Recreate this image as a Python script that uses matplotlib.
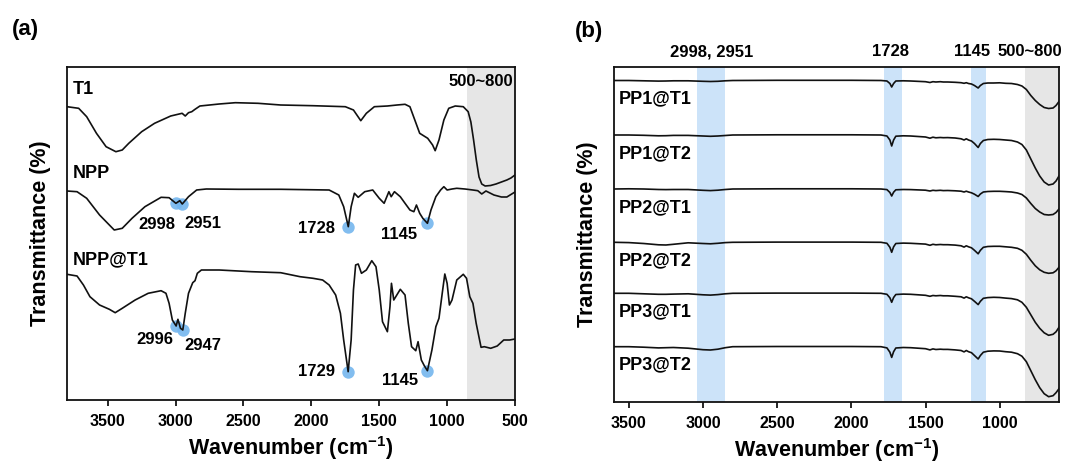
import numpy as np
import matplotlib
matplotlib.use("Agg")
import matplotlib.pyplot as plt

plt.rcParams["font.family"] = ["Liberation Sans", "DejaVu Sans"]
plt.rcParams["font.weight"] = "bold"
plt.rcParams["mathtext.fontset"] = "custom"
plt.rcParams["mathtext.rm"] = "Liberation Sans:bold"
plt.rcParams["mathtext.bf"] = "Liberation Sans:bold"
plt.rcParams["mathtext.default"] = "bf"

# ---------------- panel (a): FTIR spectra (arbitrary stacked units) ----------------
t1_wn = [3800, 3714, 3655, 3583, 3512, 3440, 3393, 3345, 3250, 3155, 3036, 2952, 2929,
         2905, 2881, 2857, 2821, 2679, 2560, 2393, 2226, 1988, 1750, 1690, 1636, 1595,
         1536, 1440, 1369, 1310, 1274, 1238, 1202, 1143, 1107, 1088, 1060, 1024, 988,
         940, 881, 845, 825, 805, 785, 765, 745, 720, 680, 640, 600, 560, 530, 500]
t1_val = [293.3, 291.7, 283.3, 266.7, 253.3, 248.3, 250.0, 256.7, 268.3, 276.7, 284.0,
          286.7, 284.0, 287.3, 288.3, 290.7, 294.0, 296.0, 297.3, 296.7, 295.0, 294.3,
          293.3, 290.0, 279.3, 286.7, 293.3, 294.0, 295.0, 295.7, 293.3, 280.0, 266.7,
          261.7, 255.0, 249.3, 260.0, 280.0, 291.7, 294.0, 293.3, 288.3, 278.0, 260.0,
          240.0, 223.0, 216.0, 214.0, 214.5, 216.0, 218.0, 220.0, 222.0, 225.0]

npp_wn = [3800, 3726, 3655, 3560, 3452, 3393, 3321, 3226, 3107, 3048, 2998, 2969, 2951,
          2905, 2845, 2774, 2536, 2226, 1869, 1798, 1762, 1728, 1707, 1683, 1655, 1607,
          1548, 1500, 1464, 1429, 1412, 1388, 1345, 1310, 1274, 1245, 1226, 1202, 1179,
          1145, 1119, 1083, 1048, 1024, 1000, 964, 929, 869, 810, 774, 745, 714, 655,
          600, 560, 500]
npp_val = [209.0, 208.3, 201.7, 185.0, 170.0, 171.7, 181.7, 193.3, 202.7, 202.3, 196.7,
           199.3, 196.0, 203.3, 210.0, 211.0, 210.7, 210.7, 210.0, 205.0, 193.3, 173.3,
           193.3, 206.7, 202.7, 208.3, 210.0, 201.7, 196.7, 208.3, 203.3, 208.3, 203.3,
           196.7, 190.0, 188.3, 195.0, 186.7, 181.7, 176.7, 190.0, 203.3, 210.0, 213.3,
           210.0, 211.0, 211.7, 211.0, 210.0, 209.3, 206.0, 209.0, 205.0, 203.0, 203.0,
           208.0]

nppt1_wn = [3800, 3726, 3679, 3631, 3560, 3488, 3445, 3393, 3298, 3202, 3107, 3071, 3048,
            3024, 2996, 2983, 2964, 2947, 2929, 2905, 2874, 2857, 2840, 2810, 2679, 2440,
            2226, 2083, 1988, 1917, 1869, 1821, 1786, 1762, 1729, 1707, 1690, 1674, 1655,
            1631, 1595, 1555, 1524, 1500, 1476, 1440, 1421, 1410, 1393, 1345, 1310, 1286,
            1262, 1231, 1214, 1190, 1167, 1145, 1112, 1083, 1060, 1036, 1017, 1000, 983,
            964, 929, 881, 857, 833, 810, 786, 750, 726, 679, 631, 583, 540, 500]
nppt1_val = [125.7, 124.0, 115.0, 103.3, 95.0, 90.7, 87.3, 91.7, 100.0, 106.7, 109.3,
             106.7, 96.7, 80.0, 74.0, 80.7, 71.7, 70.0, 86.7, 106.7, 117.3, 119.3, 126.7,
             130.0, 130.0, 128.3, 127.3, 123.3, 121.7, 120.0, 115.0, 105.0, 86.7, 60.0,
             28.3, 60.0, 110.0, 135.0, 136.0, 126.7, 130.0, 139.3, 133.3, 110.0, 78.3,
             68.3, 93.3, 116.7, 100.0, 110.7, 105.0, 76.7, 53.3, 49.3, 58.3, 40.0, 34.0,
             29.3, 50.0, 73.3, 81.7, 106.7, 126.0, 116.7, 95.0, 100.0, 120.0, 125.7, 121.7,
             103.3, 96.7, 76.7, 52.7, 53.3, 51.7, 54.0, 60.0, 60.0, 61.0]

a_names = ["T1", "NPP", "NPP@T1"]
npp_peaks = [2998, 2951, 1728, 1145]
nppt1_peaks = [2996, 2947, 1729, 1145]

# ---------------- panel (b): six coated samples on a common grid ----------------
b_wn = [3600, 3500, 3400, 3300, 3250, 3200, 3100, 3000, 2950, 2900, 2850, 2800, 2500,
        2000, 1800, 1760, 1740, 1728, 1715, 1700, 1650, 1600, 1500, 1470, 1450, 1430,
        1400, 1380, 1350, 1300, 1260, 1240, 1225, 1210, 1190, 1170, 1145, 1130, 1110,
        1080, 1040, 1000, 960, 920, 880, 850, 820, 790, 760, 730, 700, 670, 640, 620, 600]

pp1_t1 = [0, 0, -0.3, -0.6, -0.5, -0.3, -0.3, -0.8, -1.0, -0.8, -0.3, 0, 0.2, 0.2, 0,
          -0.5, -3, -6.5, -3, -0.5, -0.3, -0.5, -1.2, -2.0, -1.2, -1.5, -1.2, -1.5, -1.5,
          -1.8, -2.2, -2.8, -2.2, -3.0, -3.5, -5, -7.5, -5, -3, -2.5, -2.5, -2.3, -2.8,
          -3.0, -4.0, -5.5, -9, -15, -20, -24, -27, -28, -27.5, -25, -21]
pp1_t2 = [0, 0, -0.3, -0.8, -0.7, -0.4, -0.4, -1.0, -1.3, -1.0, -0.5, 0, 0.2, 0.2, 0,
          -1, -5, -11, -5, -1.2, -0.8, -1, -2, -3.2, -2.2, -2.8, -2.5, -2.7, -2.6, -3,
          -3.8, -5, -3.8, -5, -6, -8.5, -12.5, -8.5, -5.5, -4.5, -4.3, -4.5, -5, -5.5,
          -7, -9.5, -15, -24, -33, -41, -47, -50, -49, -46, -41]
pp2_t1 = [0, 0.2, 0, -0.5, -0.6, -0.5, -0.5, -1.3, -1.6, -1.2, -0.5, 0, 0.2, 0.2, 0,
          -0.6, -3.5, -7, -3.2, -0.8, -0.5, -0.6, -1.2, -2, -1.3, -1.6, -1.3, -1.6, -1.5,
          -1.8, -2.2, -3, -2.2, -3, -3.8, -5.2, -7.5, -5, -3, -2.5, -2.3, -2.3, -2.6,
          -3.0, -4, -5.5, -9, -14.5, -19.5, -23, -25.5, -26, -25.5, -23.5, -20]
pp2_t2 = [0, -0.3, -1.2, -2.5, -2.7, -2.0, -0.5, -1.2, -1.5, -1.0, -0.3, 0, 0.2, 0.2, 0,
          -1, -5, -10, -4.5, -1.2, -0.8, -1, -1.8, -3.0, -2.0, -2.5, -2.2, -2.4, -2.4,
          -2.8, -3.5, -4.8, -3.5, -4.5, -5.5, -8, -11.5, -8, -5, -4.2, -4, -4, -4.5, -5,
          -6, -8, -12, -18, -23.5, -27.5, -30, -31, -30.5, -28.5, -25]
pp3_t1 = [0, 0, -0.5, -1.0, -1.0, -0.8, -0.5, -1.5, -1.8, -1.3, -0.5, 0, 0.2, 0.2, 0,
          -1, -4.5, -9, -4.2, -1.2, -0.8, -1, -2, -3.0, -2.2, -2.5, -2.2, -2.5, -2.5, -3,
          -3.5, -4.8, -3.5, -4.5, -5.5, -8, -11.3, -8, -5, -4.3, -4, -4.2, -4.8, -5.3,
          -6.5, -9, -14, -21.5, -29, -35, -39.5, -42, -41, -38.5, -34]
pp3_t2 = [0, 0, -0.5, -1.2, -1.0, -0.8, -1.5, -3.0, -3.3, -2.5, -1.0, 0, 0.2, 0.2, 0,
          -1.2, -5.5, -10.7, -5, -1.3, -0.8, -1, -2, -3.2, -2.2, -2.8, -2.5, -2.7, -2.7,
          -3.2, -3.8, -5.2, -3.8, -5, -6, -8.8, -12.3, -8.8, -5.5, -4.5, -4.2, -4.3, -5,
          -5.5, -7, -9.5, -15, -24, -33, -41, -47, -50, -49, -46, -42]

b_names = ["PP1@T1", "PP1@T2", "PP2@T1", "PP2@T2", "PP3@T1", "PP3@T2"]
b_offsets = [321.5, 267.0, 213.0, 159.7, 108.7, 55.3]

b_bands = [(3040, 2850), (1780, 1660), (1190, 1090)]
b_band_labels = ["2998, 2951", "1728", "1145"]
b_band_label_x = [2939, 1735, 1185]

# ---------------- figure ----------------
W, H = 1089, 466
fig = plt.figure(figsize=(W / 100, H / 100), dpi=100)

def px_axes(l, t, r, b):
    return fig.add_axes([l / W, 1 - b / H, (r - l) / W, (b - t) / H])

ax_a = px_axes(67, 67, 515, 400)
ax_b = px_axes(614, 67, 1059, 402)

line_kw = dict(color="#111111", lw=1.2, zorder=3)
gray = "#e6e6e6"
blue_band = "#cce3f9"
dot = "#74b6ee"

def style(ax, xlim, ticks, ylim):
    ax.set_xlim(*xlim)
    ax.set_ylim(*ylim)
    ax.set_xticks(ticks)
    ax.set_yticks([])
    for s in ax.spines.values():
        s.set_linewidth(1.3)
        s.set_color("#111111")
    ax.tick_params(axis="x", direction="out", length=4, width=1.2, pad=6,
                   labelsize=11.5, top=False)
    for lab in ax.get_xticklabels():
        lab.set_fontweight("bold")
    ax.set_xlabel("Wavenumber (cm$^{-1}$)", fontsize=15.5, fontweight="bold", labelpad=4)
    ax.set_ylabel("Transmittance (%)", fontsize=15.5, fontweight="bold", va="center")

# panel (a)
style(ax_a, (3800, 500), [3500, 3000, 2500, 2000, 1500, 1000, 500], (0, 333))
ax_a.axvspan(850, 500, color=gray, lw=0, zorder=0)
ax_a.plot(t1_wn, t1_val, **line_kw)
ax_a.plot(npp_wn, npp_val, **line_kw)
ax_a.plot(nppt1_wn, nppt1_val, **line_kw)
ax_a.yaxis.set_label_coords(-0.06, 0.5)

label_y_a = [310, 227, 140]
for name, yy in zip(a_names, label_y_a):
    ax_a.text(3758, yy, name, fontsize=13, fontweight="bold", ha="left", va="center")
ax_a.text(515, 318, "500~800", fontsize=12, fontweight="bold", ha="right", va="center")

def mark_peaks(ax, wn, val, peaks, offsets):
    xs = np.array(wn[::-1], dtype=float)
    ys = np.array(val[::-1], dtype=float)
    for p, (dx, dy) in zip(peaks, offsets):
        y = np.interp(p, xs, ys)
        ax.scatter([p], [y], s=80, color=dot, alpha=0.9, lw=0, zorder=2)
        ax.annotate(str(p), (p, y), xytext=(dx, dy), textcoords="offset pixels",
                    ha="center", va="center", fontsize=12, fontweight="bold")

mark_peaks(ax_a, npp_wn, npp_val, npp_peaks,
           [(-19, -21), (21, -20), (-32, -2), (-28, -11)])
mark_peaks(ax_a, nppt1_wn, nppt1_val, nppt1_peaks,
           [(-21, -14), (20, -16), (-32, 0), (-27, -10)])

# panel (b)
style(ax_b, (3600, 600), [3500, 3000, 2500, 2000, 1500, 1000], (0, 335))
ax_b.axvspan(830, 600, color=gray, lw=0, zorder=0)
for (hi, lo) in b_bands:
    ax_b.axvspan(hi, lo, color=blue_band, lw=0, zorder=0)
b_series = [pp1_t1, pp1_t2, pp2_t1, pp2_t2, pp3_t1, pp3_t2]
for name, dev, off in zip(b_names, b_series, b_offsets):
    ax_b.plot(b_wn, off + np.array(dev), **line_kw)
    ax_b.text(3566, off - 18.5, name, fontsize=13, fontweight="bold", ha="left", va="center")
ax_b.yaxis.set_label_coords(-0.06, 0.5)

xt = ax_b.get_xaxis_transform()
for txt, x in zip(b_band_labels, b_band_label_x):
    ax_b.text(x, 1.045, txt, transform=xt, fontsize=12, fontweight="bold",
              ha="center", va="center")
fig.text(1062 / W, 1 - 52 / H, "500~800", fontsize=12, fontweight="bold",
         ha="right", va="center")

# panel letters
fig.text(12 / W, 1 - 30 / H, "(a)", fontsize=16, fontweight="bold", ha="left", va="center")
fig.text(575 / W, 1 - 32 / H, "(b)", fontsize=16, fontweight="bold", ha="left", va="center")

fig.savefig("out.png", dpi=100)
